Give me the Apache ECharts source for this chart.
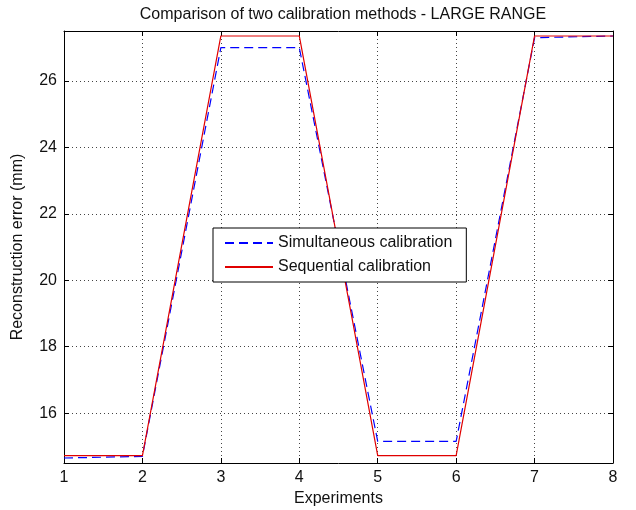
<!DOCTYPE html>
<html>
<head>
<meta charset="utf-8">
<script src="https://cdn.jsdelivr.net/npm/echarts@6/dist/echarts.min.js"></script>
<style>
  html, body { margin: 0; padding: 0; background: #fff; }
  #chart { width: 636px; height: 510px; }
</style>
</head>
<body>
<div id="chart"></div>
<script>
// experiments on the x axis
var experiments = [1, 2, 3, 4, 5, 6, 7, 8];
// reconstruction error (mm)
var simultaneous = [14.65, 14.7, 27.0, 27.0, 15.15, 15.15, 27.3, 27.35];
var sequential = [14.72, 14.72, 27.35, 27.35, 14.72, 14.72, 27.35, 27.35];
var seriesNames = ['Simultaneous calibration', 'Sequential calibration'];

function pairs(ys) {
  return experiments.map(function (x, i) { return [x, ys[i]]; });
}

var font = 'Liberation Sans, Arial, sans-serif';
var dotted = { color: '#444', width: 1, type: [1, 3] };

var chart = echarts.init(document.getElementById('chart'));
chart.setOption({
  animation: false,
  backgroundColor: '#fff',
  title: {
    text: 'Comparison of two calibration methods - LARGE RANGE',
    left: 338,
    textAlign: 'center',
    top: 2,
    textStyle: { fontFamily: font, fontSize: 16, fontWeight: 'normal', color: '#111' }
  },
  legend: {
    orient: 'vertical',
    left: 213,
    top: 228,
    backgroundColor: '#fff',
    borderColor: '#000',
    borderWidth: 1,
    borderRadius: 0,
    padding: [6, 14, 6, 11],
    itemGap: 6,
    itemWidth: 48,
    itemHeight: 14,
    itemStyle: { opacity: 0 },
    textStyle: { fontFamily: font, fontSize: 16, lineHeight: 18, color: '#111' },
    data: seriesNames
  },
  grid: { left: 64, right: 23, top: 31, bottom: 47, outerBoundsMode: 'none', containLabel: false },
  xAxis: [{
    type: 'value',
    min: 1,
    max: 8,
    interval: 1,
    name: 'Experiments',
    nameLocation: 'middle',
    nameGap: 27,
    nameTextStyle: { fontFamily: font, fontSize: 16, color: '#111' },
    axisLine: { lineStyle: { color: '#000', width: 1 } },
    axisTick: { inside: true, length: 5, lineStyle: { color: '#000' } },
    axisLabel: { fontFamily: font, fontSize: 16, color: '#111', margin: 7 },
    splitLine: { show: true, lineStyle: dotted }
  }, {
    type: 'value',
    position: 'top',
    min: 1,
    max: 8,
    interval: 1,
    axisLine: { lineStyle: { color: '#000', width: 1 } },
    axisTick: { inside: true, length: 5, lineStyle: { color: '#000' } },
    axisLabel: { show: false },
    splitLine: { show: false }
  }],
  yAxis: [{
    type: 'value',
    min: 14.5,
    max: 27.5,
    splitNumber: 6,
    minInterval: 2,
    maxInterval: 2,
    name: 'Reconstruction error (mm)',
    nameLocation: 'middle',
    nameGap: 38,
    nameTextStyle: { fontFamily: font, fontSize: 16, color: '#111' },
    axisLine: { show: true, lineStyle: { color: '#000', width: 1 } },
    axisTick: { show: true, inside: true, length: 5, lineStyle: { color: '#000' } },
    axisLabel: { fontFamily: font, fontSize: 16, color: '#111', margin: 7, showMinLabel: false, showMaxLabel: false },
    splitLine: { show: true, lineStyle: dotted }
  }, {
    type: 'value',
    position: 'right',
    min: 14.5,
    max: 27.5,
    splitNumber: 6,
    minInterval: 2,
    maxInterval: 2,
    axisLine: { show: true, lineStyle: { color: '#000', width: 1 } },
    axisTick: { show: true, inside: true, length: 5, lineStyle: { color: '#000' } },
    axisLabel: { show: false },
    splitLine: { show: false }
  }],
  series: [{
    name: seriesNames[0],
    type: 'line',
    symbol: 'none',
    data: pairs(simultaneous),
    itemStyle: { color: '#0000ff' },
    lineStyle: { color: '#0000ff', width: 1.2, type: [9, 5] },
    z: 2
  }, {
    name: seriesNames[1],
    type: 'line',
    symbol: 'none',
    data: pairs(sequential),
    itemStyle: { color: '#e00000' },
    lineStyle: { color: '#e00000', width: 1.2, type: 'solid' },
    z: 3
  }]
});
</script>
</body>
</html>
